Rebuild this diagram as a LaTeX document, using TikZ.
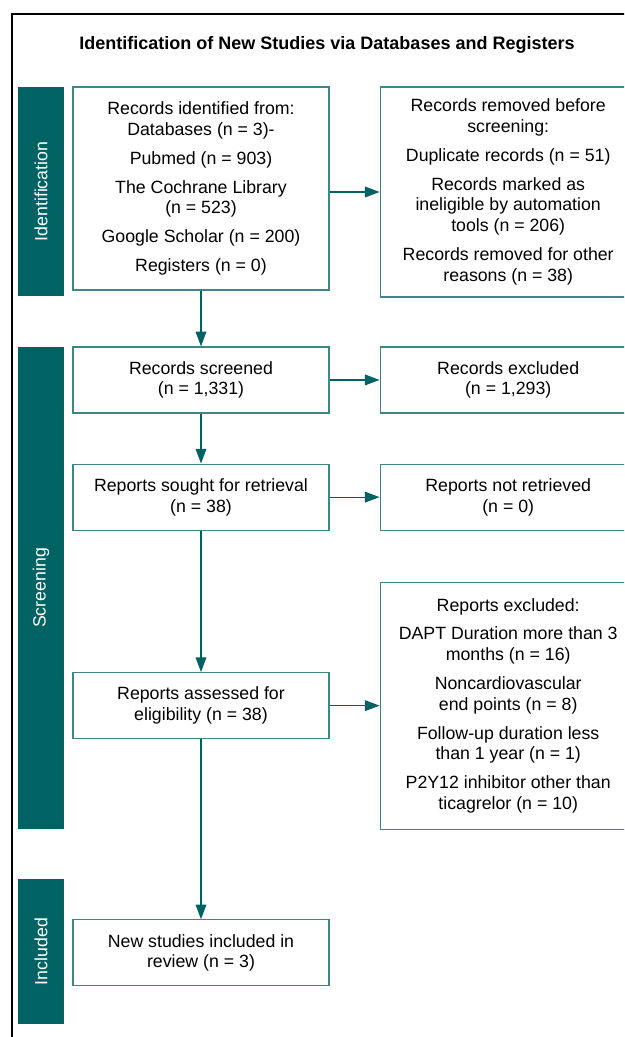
\documentclass[tikz,border=0pt]{standalone}
\usepackage{fontspec}
\setmainfont{Liberation Sans}
\usepackage{xcolor}
\usetikzlibrary{arrows.meta, positioning}

\definecolor{stagefill}{RGB}{0,98,98}
\definecolor{boxline}{RGB}{62,135,135}

\begin{document}
\begin{tikzpicture}[
    x=0.75pt, y=0.75pt,
    every node/.style={font=\fontsize{13.3}{15.6}\selectfont},
    box/.style={rectangle, draw=boxline, line width=0.9pt, fill=white, minimum width=192pt, minimum height=49.5pt, align=center, inner sep=0pt},
    stage/.style={rectangle, fill=stagefill, text=white, rotate=90, minimum height=34.5pt, inner sep=0pt},
    arrow/.style={draw=stagefill, line width=0.9pt, -{Triangle[length=11pt, width=8pt]}},
]
    \useasboundingbox (0,0) rectangle (624,-1037);
    \clip (0,0) rectangle (624,-1037);

    % Outer frame
    \draw[line width=0.8pt] (12,-1060) -- (12,-14) -- (660,-14);

    \node[font=\fontsize{13.5}{15.6}\selectfont\bfseries] (title) at (327,-45) {Identification of New Studies via Databases and Registers};

    % Stage bars
    \node[stage, minimum width=156.75pt] (s_ident) at (41,-191.5) {Identification};
    \node[stage, minimum width=361.5pt] (s_screen) at (41,-588) {Screening};
    \node[stage, minimum width=108.75pt] (s_incl) at (41,-951.5) {Included};

    % Main column
    \node[box, minimum height=152.25pt] (ident) at (201,-188.5) {Records identified from:\\ Databases (n = 3)-\\[6pt] Pubmed (n = 903)\\[6pt] The Cochrane Library\\ (n = 523)\\[6pt] Google Scholar (n = 200)\\[6pt] Registers (n = 0)};
    \node[box, below=41.8pt of ident] (screened) {Records screened\\ (n = 1,331)};
    \node[box, below=37.5pt of screened] (sought) {Reports sought for retrieval\\ (n = 38)};
    \node[box, below=106pt of sought] (assessed) {Reports assessed for\\ eligibility (n = 38)};
    \node[box, below=135pt of assessed] (included) {New studies included in\\ review (n = 3)};

    % Side column
    \node[box, minimum height=157.5pt, right=37.5pt of ident.north east, anchor=north west] (removed) {Records removed before\\ screening:\\[6pt] Duplicate records (n = 51)\\[6pt] Records marked as\\ ineligible by automation\\ tools (n = 206)\\[6pt] Records removed for other\\ reasons (n = 38)};
    \node[box, right=37.5pt of screened] (excluded) {Records excluded\\ (n = 1,293)};
    \node[box, right=37.5pt of sought] (notretr) {Reports not retrieved\\ (n = 0)};
    \node[box, minimum height=185.25pt, right=37.5pt of assessed] (repexcl) {Reports excluded:\\[6pt] DAPT Duration more than 3\\ months (n = 16)\\[6pt] Noncardiovascular\\ end points (n = 8)\\[6pt] Follow-up duration less\\ than 1 year (n = 1)\\[6pt] P2Y12 inhibitor other than\\ ticagrelor (n = 10)};

    % Connect everything
    \draw[arrow] (ident) -- (screened);
    \draw[arrow] (screened) -- (sought);
    \draw[arrow] (sought) -- (assessed);
    \draw[arrow] (assessed) -- (included);
    \draw[arrow] (ident.east |- removed.west) -- (removed.west);
    \draw[arrow] (screened) -- (excluded);
    \draw[arrow] (sought) -- (notretr);
    \draw[arrow] (assessed) -- (assessed -| repexcl.west);
\end{tikzpicture}
\end{document}
